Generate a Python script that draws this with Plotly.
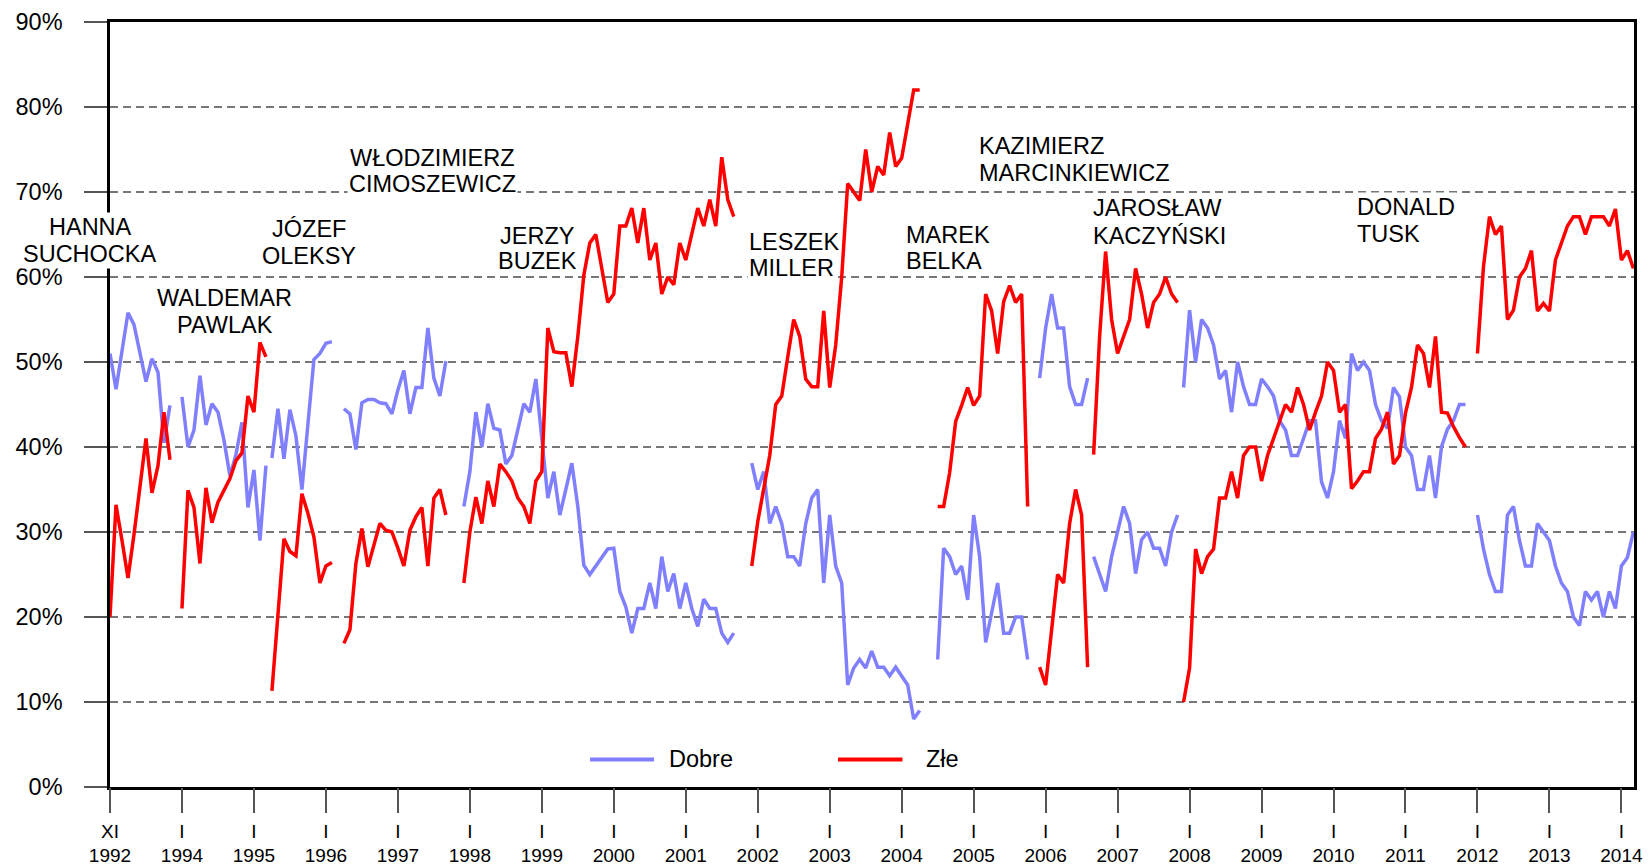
import plotly.graph_objects as go

FONT = "Liberation Sans, Arial, sans-serif"
BLUE = "#8080FF"
RED = "#FF0000"

# x = survey sequence index used by the chart's axis (0 = XI 1992, 12 = I 1994, ...)
suchocka_start = 0
suchocka_dobre = [51, 46.8, 51.3, 55.8, 54.4, 51, 47.7, 50.4, 48.8, 40.5, 44.9]
suchocka_zle = [20, 33.2, 29, 24.6, 29.7, 35.3, 41, 34.6, 37.8, 44.1, 38.5]

pawlak_start = 12
pawlak_dobre = [45.9, 40, 42, 48.4, 42.6, 45.1, 44.1, 40.8, 36.6, 39.1, 42.9, 32.9, 37.3, 29, 37.8]
pawlak_zle = [21, 34.9, 32.9, 26.3, 35.2, 31.1, 33.5, 34.9, 36.3, 38.4, 39.3, 46, 44.1, 52.3, 50.6]

oleksy_start = 27
oleksy_dobre = [38.7, 44.5, 38.6, 44.4, 41.3, 35, 42.7, 50.3, 51, 52.2, 52.4]
oleksy_zle = [11.3, 20.5, 29.2, 27.7, 27.2, 34.5, 32.2, 29.4, 24, 26, 26.4]

cimoszewicz_start = 39
cimoszewicz_dobre = [44.5, 43.9, 39.7, 45.2, 45.6, 45.6, 45.2, 45.1, 43.9, 46.7, 49, 43.9,
                     47, 47, 54, 48.1, 46, 50.1]
cimoszewicz_zle = [16.9, 18.5, 26.3, 30.4, 25.9, 28.3, 31, 30.2, 30, 28.1, 26, 30.2,
                   31.8, 32.9, 26, 34, 35, 32]

buzek_start = 59
buzek_dobre = [33, 37.1, 44.1, 40, 45.1, 42.2, 42, 38, 39, 42, 45.1, 44.1, 48, 41, 34,
               37.1, 32, 35, 38.1, 33, 26.1, 25, 26, 27, 28, 28.1, 23, 21.2, 18.1, 21,
               21, 24, 21, 27.1, 23, 25.1, 21, 24, 21, 18.9, 22.1, 21, 21, 18.1, 17, 18.1]
buzek_zle = [24, 30, 34.1, 31, 36, 33, 38, 37.1, 36, 34, 33, 31, 36, 37.1, 54,
             51.2, 51.1, 51.1, 47.1, 53, 60.2, 64, 65, 61, 57, 58, 66, 66, 68.1, 64,
             68.1, 62, 64, 58, 60, 59.1, 64, 62, 65.1, 68.1, 66, 69.1, 66, 74.1, 69.1, 67.1]

miller_start = 107
miller_dobre = [38.1, 35, 37.1, 31, 33, 31, 27.1, 27.1, 26, 31, 34, 35, 24, 32, 26, 24,
                12, 14, 15, 14, 16, 14.1, 14.1, 13.1, 14.1, 13.1, 12, 8, 9]
miller_zle = [26, 31.2, 35.1, 39, 45, 46, 50.6, 55, 53, 48, 47.1, 47.1, 56, 47, 52, 60,
              71, 70, 69, 75, 70, 73, 72, 77, 73, 74, 78, 82, 82]

belka_start = 138
belka_dobre = [15, 28.1, 27.1, 25, 26, 22, 32, 27.1, 17, 20.6, 24, 18.1, 18.1, 20, 20, 15]
belka_zle = [33, 33, 37, 43, 44.9, 47, 44.9, 46, 58, 56, 51, 57.1, 59, 57, 58, 33]

marcinkiewicz_start = 155
marcinkiewicz_dobre = [48.1, 54, 58, 54, 54, 47.1, 45, 45, 48.1]
marcinkiewicz_zle = [14.1, 12, 18.5, 25, 24, 31, 35, 32, 14.1]

kaczynski_start = 164
kaczynski_dobre = [27.1, 25.1, 23, 27.1, 30, 33, 31, 25.1, 29.1, 30, 28.1, 28.1, 26, 30, 32]
kaczynski_zle = [39.1, 53, 63, 55, 51, 53, 55, 61, 58, 54, 57, 58, 60, 58, 57]

tusk1_start = 179
tusk1_dobre = [47, 56.1, 50, 55, 54, 52, 48, 49, 44.1, 50, 47.1, 45, 45, 48, 47.1, 46,
               43.1, 42, 39, 39, 41, 43.1, 43.1, 35.9, 34, 37.1, 43.1, 41, 51, 49, 50, 49,
               45, 43.1, 42.2, 47, 45.9, 40, 39, 35, 35, 39, 34, 40, 42.1, 43.1, 45, 45]
tusk1_zle = [10, 14, 28, 25.1, 27.1, 28, 34, 34, 37.1, 34, 39, 40, 40, 36, 39, 41,
             43.1, 45, 44.1, 47, 45, 42, 44.1, 46, 50, 49, 44.1, 45, 35.1, 36, 37.1, 37.1,
             41, 42.1, 44.1, 38, 39, 44, 47, 52, 51, 47, 53, 44.1, 44, 42.4, 41.1, 40]

tusk2_start = 228
tusk2_dobre = [32, 28, 25, 23, 23, 32, 33, 29, 26, 26, 31, 30, 29, 26, 24, 23, 20, 19,
               23, 22, 23, 20, 23, 21, 26, 27, 30]
tusk2_zle = [51, 61.2, 67.1, 65, 66, 55, 56.1, 60, 61, 63.1, 56, 56.9, 56, 62, 64, 66,
             67.1, 67.1, 65, 67.1, 67.1, 67.1, 66, 68, 62, 63.1, 61]

tick_positions = list(range(0, 253, 12))
tick_years = ["1992", "1994", "1995", "1996", "1997", "1998", "1999", "2000", "2001",
              "2002", "2003", "2004", "2005", "2006", "2007", "2008", "2009", "2010",
              "2011", "2012", "2013", "2014"]
tick_months = ["XI"] + ["I"] * 21

governments = [
    (suchocka_start, suchocka_dobre, suchocka_zle),
    (pawlak_start, pawlak_dobre, pawlak_zle),
    (oleksy_start, oleksy_dobre, oleksy_zle),
    (cimoszewicz_start, cimoszewicz_dobre, cimoszewicz_zle),
    (buzek_start, buzek_dobre, buzek_zle),
    (miller_start, miller_dobre, miller_zle),
    (belka_start, belka_dobre, belka_zle),
    (marcinkiewicz_start, marcinkiewicz_dobre, marcinkiewicz_zle),
    (kaczynski_start, kaczynski_dobre, kaczynski_zle),
    (tusk1_start, tusk1_dobre, tusk1_zle),
    (tusk2_start, tusk2_dobre, tusk2_zle),
]

# (line 1, line 2, x, y line1, y line2, anchor, xshift)
labels = [
    ("HANNA", "SUCHOCKA", 0, 65.94, 62.7, "center", -20),
    ("WALDEMAR", "PAWLAK", 19.17, 57.5, 54.35, "center", 0),
    ("JÓZEF", "OLEKSY", 33.2, 65.68, 62.45, "center", 0),
    ("WŁODZIMIERZ", "CIMOSZEWICZ", 53.85, 73.96, 70.94, "center", 0),
    ("JERZY", "BUZEK", 71.24, 64.87, 61.94, "center", 0),
    ("LESZEK", "MILLER", 106.2, 64.1, 61.1, "left", 0),
    ("MAREK", "BELKA", 132.4, 65.0, 61.85, "left", 0),
    ("KAZIMIERZ", "MARCINKIEWICZ", 144.6, 75.36, 72.19, "left", 0),
    ("JAROSŁAW", "KACZYŃSKI", 163.5, 68.08, 64.8, "left", 0),
    ("DONALD", "TUSK", 207.6, 68.2, 65.06, "left", 0),
]

fig = go.Figure()
for start, dobre, zle in governments:
    xs = list(range(start, start + len(dobre)))
    fig.add_trace(go.Scatter(x=xs, y=dobre, mode="lines", name="Dobre",
                             line=dict(color=BLUE, width=3.5), showlegend=False))
for start, dobre, zle in governments:
    xs = list(range(start, start + len(zle)))
    fig.add_trace(go.Scatter(x=xs, y=zle, mode="lines", name="Złe",
                             line=dict(color=RED, width=3.5), showlegend=False))
# helper trace so the month-label axis (xaxis2) is drawn
fig.add_trace(go.Scatter(x=[tick_positions[0]], y=[None], xaxis="x2", yaxis="y",
                         mode="lines", showlegend=False, hoverinfo="skip"))

annotations = []
for l1, l2, x, y1, y2, anchor, xs in labels:
    for txt, yy in ((l1, y1), (l2, y2)):
        annotations.append(dict(text=txt, x=x, y=yy, xref="x", yref="y",
                                xanchor=anchor, yanchor="middle", showarrow=False,
                                xshift=xs, bgcolor="white", borderpad=1,
                                font=dict(family=FONT, size=23.5, color="black")))

# legend (custom, to match long key lines)
legend_items = [("Dobre", BLUE, 0.315, 0.357, 0.3655), ("Złe", RED, 0.4777, 0.520, 0.534)]
shapes = []
for name, col, x0, x1, xt in legend_items:
    shapes.append(dict(type="line", xref="paper", yref="paper", x0=x0, x1=x1,
                       y0=0.036, y1=0.036, line=dict(color=col, width=4)))
    annotations.append(dict(text=name, xref="paper", yref="paper", x=xt, y=0.036,
                            xanchor="left", yanchor="middle", showarrow=False,
                            font=dict(family=FONT, size=23.5, color="black")))

fig.update_layout(
    width=1652, height=867,
    margin=dict(l=110, r=18, t=22, b=80, autoexpand=False),
    paper_bgcolor="white", plot_bgcolor="white",
    font=dict(family=FONT, color="black"),
    showlegend=False,
    annotations=annotations,
    shapes=shapes,
    xaxis=dict(range=[0, 254.1], tickmode="array", tickvals=tick_positions,
               ticktext=tick_years, ticks="outside", ticklen=23, tickwidth=1.5,
               tickcolor="#555555", showgrid=False, zeroline=False, automargin=False,
               showline=True, linecolor="black", linewidth=2.5, mirror=True,
               tickfont=dict(family=FONT, size=19, color="black"),
               ticklabelstandoff=26),
    xaxis2=dict(overlaying="x", matches="x", anchor="y", side="bottom",
                tickmode="array", tickvals=tick_positions, ticktext=tick_months,
                ticks="outside", ticklen=23, tickwidth=1.5, tickcolor="#555555",
                showgrid=False, zeroline=False, showline=False, automargin=False,
                tickfont=dict(family=FONT, size=19, color="black"),
                ticklabelstandoff=4),
    yaxis=dict(range=[0, 90], dtick=10, ticksuffix="%", ticks="outside", ticklen=23,
               tickwidth=1.5, tickcolor="#555555", showgrid=True, gridcolor="#777777",
               gridwidth=1.5, griddash="8px,5px", zeroline=False, automargin=False,
               showline=True, linecolor="black", linewidth=2.5, mirror=True,
               tickfont=dict(family=FONT, size=23.5, color="black"),
               ticklabelstandoff=17),
)

fig.write_html("out.html", config={"displayModeBar": False},
               post_script="document.body.style.margin='0';document.body.style.overflow='hidden';")
